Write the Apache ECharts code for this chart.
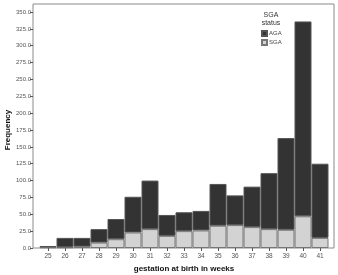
<!DOCTYPE html>
<html>
<head>
<meta charset="utf-8">
<script src="https://cdn.jsdelivr.net/npm/echarts@6/dist/echarts.min.js"></script>
<style>
  html, body { margin: 0; padding: 0; background: #fff; }
  #chart { width: 338px; height: 275px; }
</style>
</head>
<body>
<div id="chart"></div>
<script>
// gestation weeks
const weeks = ["25", "26", "27", "28", "29", "30", "31", "32", "33", "34", "35", "36", "37", "38", "39", "40", "41"];
// bar totals
const totals = [3, 15, 15, 28, 43, 76, 100, 49, 53, 55, 95, 78, 91, 111, 163, 336, 125];
// SGA part (light, bottom)
const sgaValues = [1, 1, 2, 8, 13, 23, 28, 18, 25, 26, 33, 34, 31, 28, 27, 47, 15];
// AGA part (dark, stacked on top)
const agaValues = totals.map((t, i) => t - sgaValues[i]);
const yTicks = [0, 350, 25];

const chart = echarts.init(document.getElementById("chart"));

const option = {
  animation: false,
  textStyle: { fontFamily: "Liberation Sans, Arial, sans-serif" },
  grid: [
    // data area
    { left: 39.5, right: 9.5, top: 12, bottom: 27, outerBoundsMode: "none", containLabel: false },
    // outer frame
    { left: 33, right: 4, top: 4, bottom: 27, outerBoundsMode: "none", show: true, borderColor: "#8a8a8a", borderWidth: 1, backgroundColor: "transparent" },
  ],
  xAxis: [
    {
      type: "category",
      data: weeks,
      gridIndex: 0,
      axisLine: { show: false },
      axisTick: { show: true, alignWithLabel: true, length: 3, lineStyle: { color: "#555" } },
      axisLabel: { fontSize: 6.5, color: "#555", margin: 5 },
      name: "gestation at birth in weeks",
      nameLocation: "middle",
      nameGap: 17,
      nameMoveOverlap: false,
      nameTextStyle: { fontSize: 8, fontWeight: "bold", color: "#111" },
    },
    { type: "value", gridIndex: 1, show: false },
  ],
  yAxis: [
    {
      type: "value",
      gridIndex: 0,
      min: yTicks[0],
      max: yTicks[1],
      interval: yTicks[2],
      offset: 6.5,
      axisLine: { show: false },
      axisTick: { show: true, length: 3, lineStyle: { color: "#555" } },
      axisLabel: { fontSize: 6, color: "#555", margin: 2, formatter: v => v.toFixed(1) },
      splitLine: { show: false },
      name: "Frequency",
      nameLocation: "middle",
      nameGap: 21,
      nameMoveOverlap: false,
      nameRotate: 90,
      nameTextStyle: { fontSize: 8, fontWeight: "bold", color: "#111" },
    },
    { type: "value", gridIndex: 1, show: false },
  ],
  legend: {
    orient: "vertical",
    left: 256,
    top: 25,
    icon: "rect",
    itemWidth: 5,
    itemHeight: 5,
    itemGap: 2,
    textStyle: { fontSize: 6, color: "#444", padding: [0, 0, 0, -3] },
    data: ["AGA", "SGA"],
  },
  title: {
    text: "SGA\nstatus",
    left: 266,
    top: 6,
    textAlign: "center",
    textStyle: { fontSize: 7, fontWeight: "normal", color: "#333", lineHeight: 8 },
  },
  series: [
    {
      name: "SGA",
      type: "bar",
      stack: "all",
      data: sgaValues,
      barCategoryGap: "0%",
      itemStyle: { color: "#d3d3d3", borderColor: "#777", borderWidth: 1 },
    },
    {
      name: "AGA",
      type: "bar",
      stack: "all",
      data: agaValues,
      barCategoryGap: "0%",
      itemStyle: { color: "#333333", borderColor: "#555", borderWidth: 1 },
    },
  ],
};

chart.setOption(option);
window.addEventListener("resize", () => {
  chart.resize();
});
</script>
</body>
</html>
